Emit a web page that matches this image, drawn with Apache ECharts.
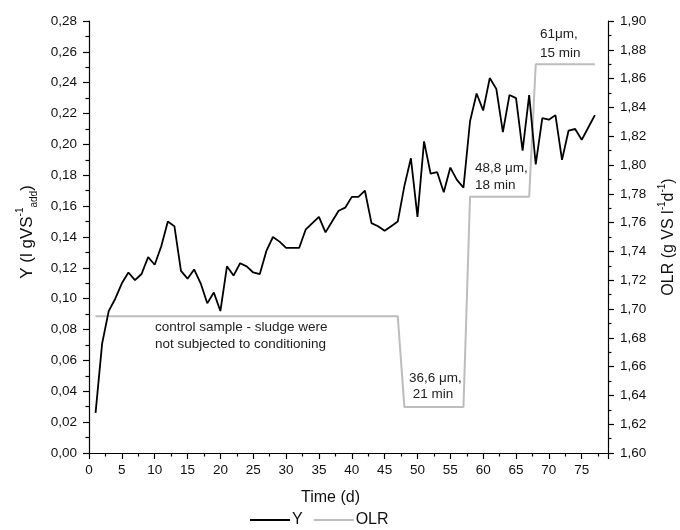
<!DOCTYPE html>
<html>
<head>
<meta charset="utf-8">
<script src="https://cdn.jsdelivr.net/npm/echarts@6/dist/echarts.min.js"></script>
<style>
  html, body { margin: 0; padding: 0; background: #fff; }
  #chart { width: 680px; height: 530px; }
</style>
</head>
<body>
<div id="chart"></div>
<script>
// time (d)
const days = [1, 2, 3, 4, 5, 6, 7, 8, 9, 10, 11, 12, 13, 14, 15, 16, 17, 18, 19, 20,
  21, 22, 23, 24, 25, 26, 27, 28, 29, 30, 31, 32, 33, 34, 35, 36, 37, 38, 39, 40,
  41, 42, 43, 44, 45, 46, 47, 48, 49, 50, 51, 52, 53, 54, 55, 56, 57, 58, 59, 60,
  61, 62, 63, 64, 65, 66, 67, 68, 69, 70, 71, 72, 73, 74, 75, 76, 77];

// Y (l gVS-1 add)
const yValues = [0.026, 0.071, 0.092, 0.100, 0.110, 0.117, 0.112, 0.116, 0.127, 0.122,
  0.134, 0.150, 0.147, 0.118, 0.113, 0.119, 0.110, 0.097, 0.104, 0.092,
  0.121, 0.115, 0.123, 0.121, 0.117, 0.116, 0.131, 0.140, 0.137, 0.133,
  0.133, 0.133, 0.145, 0.149, 0.153, 0.143, 0.150, 0.157, 0.159, 0.166,
  0.166, 0.170, 0.149, 0.147, 0.144, 0.147, 0.150, 0.173, 0.191, 0.153,
  0.202, 0.181, 0.182, 0.169, 0.185, 0.177, 0.172, 0.215, 0.233, 0.222,
  0.243, 0.236, 0.208, 0.232, 0.230, 0.196, 0.232, 0.187, 0.217, 0.216,
  0.219, 0.190, 0.209, 0.210, 0.203, 0.211, 0.219];

// OLR (g VS l-1 d-1)
const olrValues = [1.695, 1.695, 1.695, 1.695, 1.695, 1.695, 1.695, 1.695, 1.695, 1.695,
  1.695, 1.695, 1.695, 1.695, 1.695, 1.695, 1.695, 1.695, 1.695, 1.695,
  1.695, 1.695, 1.695, 1.695, 1.695, 1.695, 1.695, 1.695, 1.695, 1.695,
  1.695, 1.695, 1.695, 1.695, 1.695, 1.695, 1.695, 1.695, 1.695, 1.695,
  1.695, 1.695, 1.695, 1.695, 1.695, 1.695, 1.695, 1.632, 1.632, 1.632,
  1.632, 1.632, 1.632, 1.632, 1.632, 1.632, 1.632, 1.778, 1.778, 1.778,
  1.778, 1.778, 1.778, 1.778, 1.778, 1.778, 1.778, 1.870, 1.870, 1.870,
  1.870, 1.870, 1.870, 1.870, 1.870, 1.870, 1.870];

const font = "Liberation Sans";
const comma = (v) => v.toFixed(2).replace(".", ",");

const mychart = echarts.init(document.getElementById("chart"));

// shared axis look: outward ticks with one minor tick between majors
const axisCommon = {
  axisLine: { show: true, lineStyle: { color: "#000", width: 1.2 } },
  axisTick: { show: true, length: 6, lineStyle: { color: "#000", width: 1.2 } },
  minorTick: { show: true, splitNumber: 2, length: 3.5, lineStyle: { color: "#000", width: 1.2 } },
  splitLine: { show: false },
  axisLabel: { color: "#111", fontSize: 13.5, fontFamily: font },
};

mychart.setOption({
  animation: false,
  grid: { left: 89, right: 72, top: 21, bottom: 77, outerBoundsMode: "none" },
  legend: {
    data: ["Y", "OLR"],
    top: 507,
    left: 244,
    itemWidth: 40,
    itemHeight: 12,
    itemGap: 10,
    itemStyle: { opacity: 0 },
    textStyle: { color: "#111", fontSize: 16, fontFamily: font, padding: [0, 0, 0, -3] },
  },
  xAxis: {
    type: "value",
    min: 0,
    max: 79,
    interval: 5,
    name: "Time (d)",
    nameLocation: "middle",
    nameGap: 37,
    nameTextStyle: { color: "#111", fontSize: 16, fontFamily: font, padding: [0, 36, 0, 0] },
    ...axisCommon,
    axisLabel: { ...axisCommon.axisLabel, showMaxLabel: false, margin: 10 },
  },
  yAxis: [
    {
      type: "value",
      min: 0,
      max: 0.28,
      interval: 0.02,
      position: "left",
      name: "Y (l gVS{sup|-1}{sub|add})",
      nameLocation: "middle",
      nameGap: 50,
      nameRotate: 90,
      nameTextStyle: {
        color: "#111", fontSize: 17, fontFamily: font, lineHeight: 24,
        padding: [0, 0, 0, 10],
        rich: {
          sup: { fontSize: 10, fontFamily: font, color: "#111", verticalAlign: "top", lineHeight: 24 },
          sub: { fontSize: 10, fontFamily: font, color: "#111", verticalAlign: "bottom", lineHeight: 24 },
        },
      },
      ...axisCommon,
      axisLabel: { ...axisCommon.axisLabel, formatter: comma, margin: 12 },
    },
    {
      type: "value",
      min: 1.6,
      max: 1.9,
      interval: 0.02,
      position: "right",
      name: "OLR (g VS l{sup|-1}d{sup|-1})",
      nameLocation: "middle",
      nameGap: 44,
      nameRotate: 90,
      nameTextStyle: {
        color: "#111", fontSize: 16, fontFamily: font, lineHeight: 22,
        rich: {
          sup: { fontSize: 10, fontFamily: font, color: "#111", verticalAlign: "top", lineHeight: 22 },
        },
      },
      ...axisCommon,
      axisLabel: { ...axisCommon.axisLabel, formatter: comma, margin: 12 },
    },
  ],
  series: [
    {
      name: "OLR",
      type: "line",
      yAxisIndex: 1,
      symbol: "none",
      z: 2,
      lineStyle: { color: "#bdbdbd", width: 2 },
      itemStyle: { color: "#bdbdbd" },
      data: days.map((d, i) => [d, olrValues[i]]),
    },
    {
      name: "Y",
      type: "line",
      yAxisIndex: 0,
      symbol: "none",
      z: 3,
      lineStyle: { color: "#000", width: 1.8 },
      itemStyle: { color: "#000" },
      data: days.map((d, i) => [d, yValues[i]]),
    },
  ],
  // text notes inside the plot
  graphic: [
    {
      type: "text", left: 155, top: 319,
      style: { text: "control sample - sludge were\nnot subjected to conditioning", fontSize: 13.5, lineHeight: 17, fontFamily: font, fill: "#222" },
    },
    {
      type: "text", left: 409, top: 370,
      style: { text: "36,6 μm,\n 21 min", fontSize: 13.5, lineHeight: 16, fontFamily: font, fill: "#222" },
    },
    {
      type: "text", left: 475, top: 160,
      style: { text: "48,8 μm,\n18 min", fontSize: 13.5, lineHeight: 17, fontFamily: font, fill: "#222" },
    },
    {
      type: "text", left: 540, top: 25,
      style: { text: "61μm,\n15 min", fontSize: 13.5, lineHeight: 19, fontFamily: font, fill: "#222" },
    },
  ],
});
</script>
</body>
</html>
